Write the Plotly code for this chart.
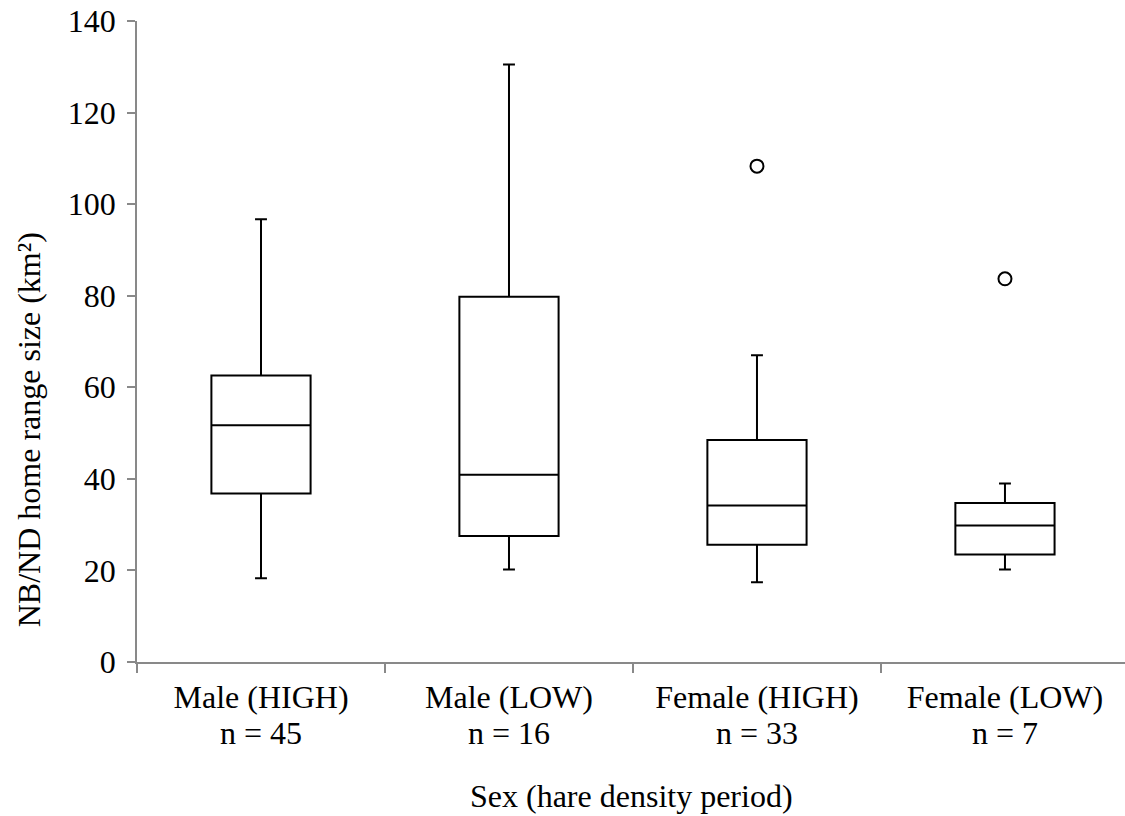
import plotly.graph_objects as go

categories = ["Male (HIGH)", "Male (LOW)", "Female (HIGH)", "Female (LOW)"]
sample_sizes = [45, 16, 33, 7]
lower_whisker = [18.3, 20.2, 17.4, 20.2]
q1 = [36.8, 27.5, 25.6, 23.5]
median = [51.7, 40.9, 34.2, 29.8]
q3 = [62.6, 79.8, 48.5, 34.7]
upper_whisker = [96.7, 130.5, 67.0, 39.0]
outlier_group = [2, 3]
outlier_value = [108.3, 83.7]
y_ticks = [0, 20, 40, 60, 80, 100, 120, 140]

FONT = "Liberation Serif, Times New Roman, serif"
FS = 32
AXIS_GREY = "#898989"

positions = list(range(len(categories)))
n_labels = [f"n = {n}" for n in sample_sizes]

fig = go.Figure()
fig.add_trace(go.Box(
    x=positions, q1=q1, median=median, q3=q3,
    lowerfence=lower_whisker, upperfence=upper_whisker,
    width=0.4, whiskerwidth=0.12,
    line=dict(color="black", width=2), fillcolor="white",
    boxpoints=False, showlegend=False, hoverinfo="skip",
))
fig.add_trace(go.Scatter(
    x=outlier_group, y=outlier_value, mode="markers",
    marker=dict(symbol="circle-open", size=13, color="black", line=dict(width=2)),
    showlegend=False, hoverinfo="skip",
))

x_range = [-0.5, 3.484]
label_axis = dict(
    range=x_range, overlaying="x", anchor="y", side="bottom",
    tickmode="array", tickvals=positions,
    ticks="", showline=False, showgrid=False, zeroline=False,
    tickfont=dict(family=FONT, size=FS, color="black"),
)
fig.update_layout(
    width=1125, height=816,
    margin=dict(l=137, r=0, t=21, b=153.5),
    paper_bgcolor="white", plot_bgcolor="white",
    font=dict(family=FONT, size=FS, color="black"),
    xaxis=dict(
        range=x_range, tickmode="array",
        tickvals=[p - 0.5 for p in positions] + [positions[-1] + 0.5],
        ticktext=[""] * (len(positions) + 1),
        ticks="outside", ticklen=9, tickwidth=1.5, tickcolor=AXIS_GREY,
        showline=True, linecolor=AXIS_GREY, linewidth=1.5,
        showgrid=False, zeroline=False, fixedrange=True,
    ),
    xaxis2=dict(label_axis, ticktext=categories, ticklabelstandoff=13),
    xaxis3=dict(label_axis, ticktext=n_labels, ticklabelstandoff=49),
    yaxis=dict(
        range=[0, 140], tickmode="array", tickvals=y_ticks,
        ticks="outside", ticklen=8, tickwidth=1.5, tickcolor=AXIS_GREY,
        showline=True, linecolor=AXIS_GREY, linewidth=1.5,
        showgrid=False, zeroline=False,
        tickfont=dict(family=FONT, size=FS, color="black"),
        ticklabelstandoff=5,
    ),
    annotations=[
        dict(text="NB/ND home range size (km²)", textangle=-90,
             xref="paper", yref="paper", x=-0.109, y=0.362,
             xanchor="center", yanchor="middle", showarrow=False,
             font=dict(family=FONT, size=FS, color="black")),
        dict(text="Sex (hare density period)",
             xref="paper", yref="paper", x=0.5, y=-0.2097,
             xanchor="center", yanchor="middle", showarrow=False,
             font=dict(family=FONT, size=FS, color="black")),
    ],
)
# empty traces so the label axes render
fig.add_trace(go.Scatter(x=[None], y=[None], xaxis="x2", showlegend=False, hoverinfo="skip"))
fig.add_trace(go.Scatter(x=[None], y=[None], xaxis="x3", showlegend=False, hoverinfo="skip"))

fig.write_html("out.html")
